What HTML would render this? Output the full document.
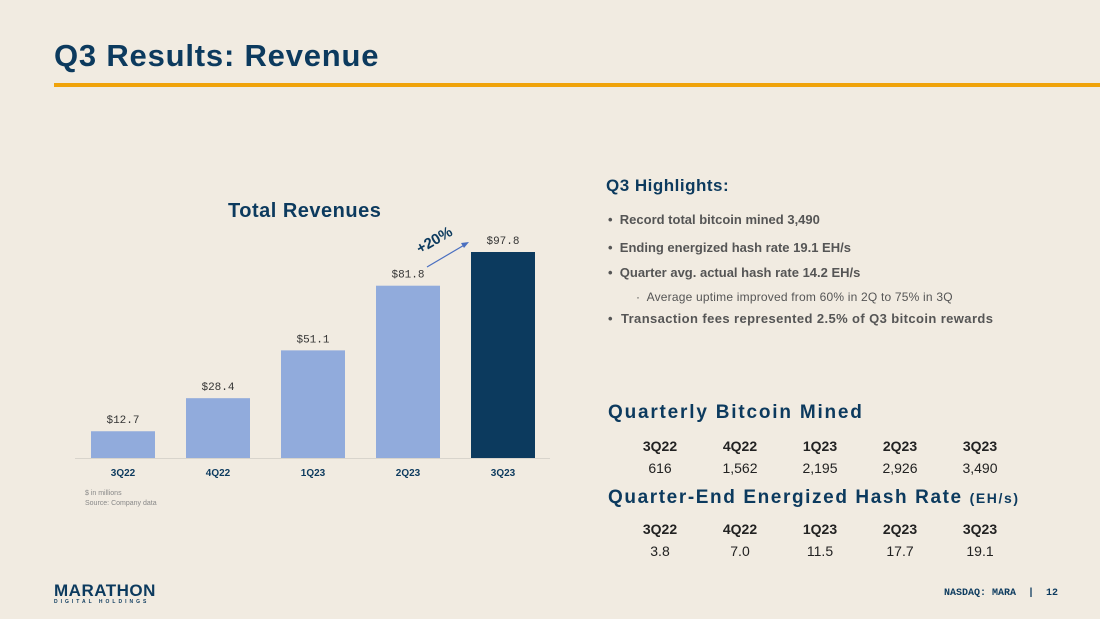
<!DOCTYPE html>
<html><head><meta charset="utf-8"><style>
body{margin:0;width:1100px;height:619px;background:#f1ebe1;font-family:"Liberation Sans",sans-serif;position:relative;overflow:hidden}
.a{position:absolute}
.hl{color:#555;font-weight:bold;font-size:13px}
.tbl{position:absolute;left:620px;width:400px;font-size:14px}
.tbl div{display:flex}
.tbl span{width:81px;text-align:center}
</style></head><body>
<div class="a" style="left:54px;top:38px;font-size:31px;font-weight:bold;color:#0c3a5e;letter-spacing:0.8px">Q3 Results: Revenue</div>
<div class="a" style="left:54px;top:83px;width:1046px;height:4px;background:#f0a30a"></div>
<div class="a" style="left:228px;top:200px;font-size:20px;font-weight:bold;color:#0c3a5e;letter-spacing:0.5px">Total Revenues</div>
<svg class="a" style="left:0;top:0" width="1100" height="619" id="chart"></svg>
<div class="a" style="left:85px;top:489px;font-size:7px;color:#888;line-height:10px">$ in millions<br>Source: Company data</div>
<div class="a" style="left:606px;top:176px;font-size:17px;font-weight:bold;color:#0c3a5e;letter-spacing:0.5px">Q3 Highlights:</div>
<div class="a hl" style="left:608px;top:212px">•&nbsp; Record total bitcoin mined 3,490</div>
<div class="a hl" style="left:608px;top:240px">•&nbsp; Ending energized hash rate 19.1 EH/s</div>
<div class="a hl" style="left:608px;top:265px">•&nbsp; Quarter avg. actual hash rate 14.2 EH/s</div>
<div class="a" style="left:636px;top:290px;font-size:12px;color:#555;letter-spacing:0.2px">·&nbsp; Average uptime improved from 60% in 2Q to 75% in 3Q</div>
<div class="a hl" style="left:608px;top:311px;letter-spacing:0.4px">•&nbsp; Transaction fees represented 2.5% of Q3 bitcoin rewards</div>
<div class="a" style="left:608px;top:402px;font-size:19px;font-weight:bold;color:#0c3a5e;letter-spacing:1.8px">Quarterly Bitcoin Mined</div>
<div class="tbl" style="top:438px">
<div style="font-weight:bold;color:#222"><span>3Q22</span><span>4Q22</span><span>1Q23</span><span>2Q23</span><span>3Q23</span></div>
<div style="margin-top:6px;color:#222"><span>616</span><span>1,562</span><span>2,195</span><span>2,926</span><span>3,490</span></div></div>
<div class="a" style="left:608px;top:487px;font-size:19px;font-weight:bold;color:#0c3a5e;letter-spacing:1.6px">Quarter-End Energized Hash Rate <span style="font-size:14px">(EH/s)</span></div>
<div class="tbl" style="top:521px">
<div style="font-weight:bold;color:#222"><span>3Q22</span><span>4Q22</span><span>1Q23</span><span>2Q23</span><span>3Q23</span></div>
<div style="margin-top:6px;color:#222"><span>3.8</span><span>7.0</span><span>11.5</span><span>17.7</span><span>19.1</span></div></div>
<div class="a" style="left:54px;top:583px;color:#0c3a5e"><div style="font-size:17px;font-weight:bold;line-height:16px;letter-spacing:0.5px">MARATHON</div><div style="font-size:5px;letter-spacing:3px;font-weight:bold">DIGITAL HOLDINGS</div></div>
<div class="a" style="left:944px;top:588px;font-size:10px;font-family:'Liberation Mono',monospace;font-weight:bold;color:#0c3a5e">NASDAQ: MARA &nbsp;| &nbsp;12</div>
<script>
const categories=["3Q22","4Q22","1Q23","2Q23","3Q23"];
const revenue=[12.7,28.4,51.1,81.8,97.8];
const labels=["$12.7","$28.4","$51.1","$81.8","$97.8"];
const svg=document.getElementById('chart');const ns="http://www.w3.org/2000/svg";
const base=458,k=206/97.8,x=i=>123+95*i,bw=64;
function mk(t,a,txt){const e=document.createElementNS(ns,t);for(const q in a)e.setAttribute(q,a[q]);if(txt)e.textContent=txt;svg.appendChild(e);return e;}
const ax=mk('line',{x1:75,x2:550,y1:base+0.5,y2:base+0.5,stroke:'#d8d4cc'});


categories.forEach((c,i)=>{
const h=revenue[i]*k;
const r=mk('rect',{x:x(i)-bw/2,y:base-h,width:bw,height:h,fill:i==4?'#0c3a5e':'#91abdc'});


const l=mk('text',{x:x(i),y:base-h-8,'text-anchor':'middle','font-size':11,'font-family':'Liberation Mono,monospace',fill:'#333'},labels[i]);


const t=mk('text',{x:x(i),y:base+18,'text-anchor':'middle','font-size':10,'font-weight':'bold',fill:'#0c3a5e'},c);


});
const ar=mk('line',{x1:427,y1:267,x2:466,y2:244,stroke:'#4a6fc0','stroke-width':1.2});


const ah=mk('polygon',{points:'469,242 461,243 464,248',fill:'#4a6fc0'});


const g=mk('text',{x:0,y:0,transform:'translate(420,254) rotate(-30)','font-size':15,'font-weight':'bold',fill:'#0c3a5e'},'+20%');


</script>
</body></html>
